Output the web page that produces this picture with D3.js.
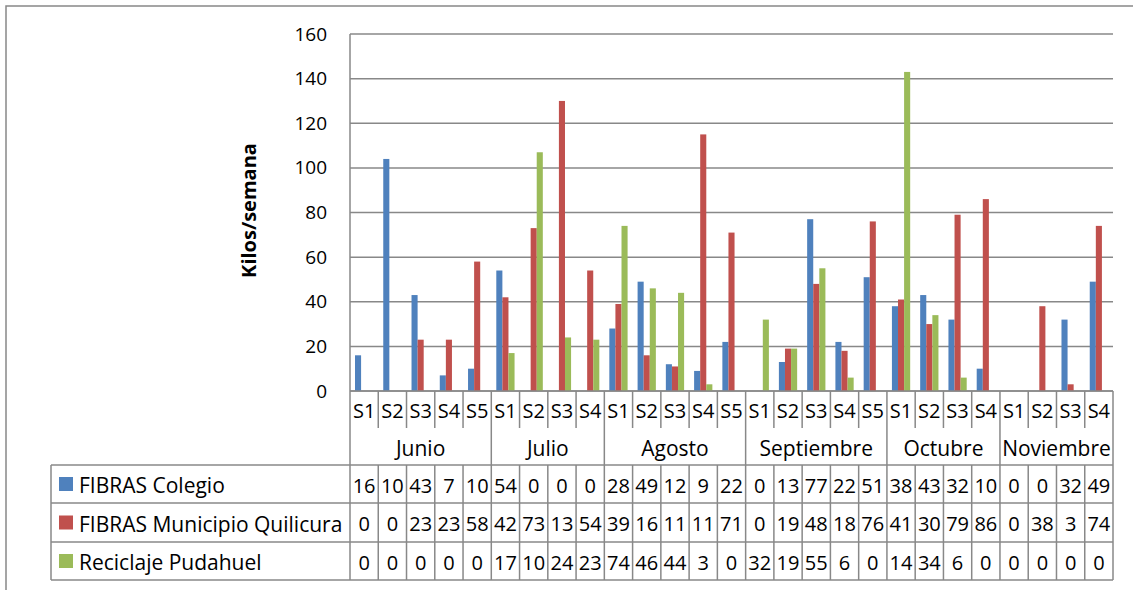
<!DOCTYPE html>
<html>
<head>
<meta charset="utf-8">
<script src="https://cdn.jsdelivr.net/npm/d3@7"></script>
<style>
  body { margin: 0; background: #fff; }
  svg text { font-family: "Open Sans", sans-serif; fill: #000; }
</style>
</head>
<body>
<svg id="chart" width="1133" height="590"></svg>
<script>
// data
const months = ["Junio", "Julio", "Agosto", "Septiembre", "Octubre", "Noviembre"];
const weeksPerMonth = [5, 4, 5, 5, 4, 4];
const seriesNames = ["FIBRAS Colegio", "FIBRAS Municipio Quilicura", "Reciclaje Pudahuel"];
const colegio   = [16, 104, 43, 7, 10, 54, 0, 0, 0, 28, 49, 12, 9, 22, 0, 13, 77, 22, 51, 38, 43, 32, 10, 0, 0, 32, 49];
const municipio = [0, 0, 23, 23, 58, 42, 73, 130, 54, 39, 16, 11, 115, 71, 0, 19, 48, 18, 76, 41, 30, 79, 86, 0, 38, 3, 74];
const reciclaje = [0, 0, 0, 0, 0, 17, 107, 24, 23, 74, 46, 44, 3, 0, 32, 19, 55, 6, 0, 143, 34, 6, 0, 0, 0, 0, 0];
const yTicks = [0, 20, 40, 60, 80, 100, 120, 140, 160];
const yTitle = "Kilos/semana";

const colors = ["#4F81BD", "#C0504D", "#9BBB59"];
const lineCol = "#888888";

// build the categories (month / week)
let cats = [];
months.forEach(function (m, mi) {
    for (let w = 1; w <= weeksPerMonth[mi]; w++) {
        cats.push({ key: m + "-S" + w, month: m, week: "S" + w });
    }
});
const allSeries = [colegio, municipio, reciclaje];

const svg = d3.select("#chart");

// layout
const plotL = 350, plotR = 1113, plotT = 34, plotB = 391;
const rowS = 428, rowM = 465;
const tableRows = [465, 503, 542, 580];
const tableL = 51;
const fsNum = 19;   // digits
const fsTxt = 21;   // words

// outer frame
svg.append("rect")
    .attr("x", 6).attr("y", 6)
    .attr("width", 1140).attr("height", 600)
    .attr("fill", "none")
    .attr("stroke", lineCol)
    .attr("stroke-width", 1.5);

const x = d3.scaleBand()
    .domain(cats.map(d => d.key))
    .range([plotL, plotR])
    .padding(0);

const gap = 10;
const xInner = d3.scaleBand()
    .domain(d3.range(3))
    .range([gap / 2, x.bandwidth() - gap / 2])
    .padding(0);

const y = d3.scaleLinear()
    .domain([0, 160])
    .range([plotB, plotT]);

// gridlines
svg.append("g")
    .selectAll("line")
    .data(yTicks)
    .enter()
    .append("line")
    .attr("x1", plotL).attr("x2", plotR)
    .attr("y1", d => y(d)).attr("y2", d => y(d))
    .attr("stroke", lineCol)
    .attr("stroke-width", 1.5);

// y axis labels
const yAxis = svg.append("g")
    .attr("transform", `translate(${plotL},0)`)
    .call(d3.axisLeft(y).tickValues(yTicks).tickSize(0).tickPadding(23));
yAxis.select(".domain").remove();
yAxis.selectAll("text")
    .style("font-size", fsNum + "px")
    .style("font-family", "'Open Sans', sans-serif");

// y title
svg.append("text")
    .attr("transform", `translate(248,${(plotT + plotB) / 2 - 2}) rotate(-90)`)
    .attr("text-anchor", "middle")
    .attr("dominant-baseline", "central")
    .style("font-size", "20px")
    .style("font-weight", "bold")
    .text(yTitle);

// bars
allSeries.forEach(function (vals, si) {
    svg.append("g")
        .selectAll("rect")
        .data(cats)
        .enter()
        .append("rect")
        .attr("x", d => x(d.key) + xInner(si))
        .attr("width", xInner.bandwidth())
        .attr("y", (d, i) => y(vals[i]))
        .attr("height", (d, i) => plotB - y(vals[i]))
        .attr("fill", colors[si]);
});

// category axis: week row
const lines = svg.append("g").attr("stroke", lineCol).attr("stroke-width", 1.5);
lines.append("line").attr("x1", plotL).attr("x2", plotR).attr("y1", plotB).attr("y2", plotB);
lines.append("line").attr("x1", plotL).attr("x2", plotL).attr("y1", plotT).attr("y2", tableRows[3]);
lines.append("line").attr("x1", plotR).attr("x2", plotR).attr("y1", plotB).attr("y2", tableRows[3]);

let monthStart = [];
let acc = 0;
weeksPerMonth.forEach(function (n) { monthStart.push(acc); acc += n; });

cats.forEach(function (d, i) {
    if (i === 0) return;
    const isMonth = monthStart.includes(i);
    lines.append("line")
        .attr("x1", x(d.key)).attr("x2", x(d.key))
        .attr("y1", plotB).attr("y2", isMonth ? rowM : rowS);
});

svg.append("g")
    .selectAll("text")
    .data(cats)
    .enter()
    .append("text")
    .attr("x", d => x(d.key) + x.bandwidth() / 2)
    .attr("y", (plotB + rowS) / 2 + 1)
    .attr("text-anchor", "middle")
    .attr("dominant-baseline", "central")
    .style("font-size", "20px")
    .text(d => d.week);

// month row
svg.append("g")
    .selectAll("text")
    .data(months)
    .enter()
    .append("text")
    .attr("x", (d, i) => {
        const a = x(cats[monthStart[i]].key);
        const b = x(cats[monthStart[i] + weeksPerMonth[i] - 1].key) + x.bandwidth();
        return (a + b) / 2;
    })
    .attr("y", (rowS + rowM) / 2 + 1)
    .attr("text-anchor", "middle")
    .attr("dominant-baseline", "central")
    .style("font-size", fsTxt + "px")
    .text(d => d);

// data table
tableRows.forEach(function (ty) {
    lines.append("line").attr("x1", tableL).attr("x2", plotR).attr("y1", ty).attr("y2", ty);
});
lines.append("line").attr("x1", tableL).attr("x2", tableL).attr("y1", tableRows[0]).attr("y2", tableRows[3]);
cats.forEach(function (d, i) {
    if (i === 0) return;
    lines.append("line")
        .attr("x1", x(d.key)).attr("x2", x(d.key))
        .attr("y1", tableRows[0]).attr("y2", tableRows[3]);
});

seriesNames.forEach(function (name, si) {
    const cy = (tableRows[si] + tableRows[si + 1]) / 2;
    svg.append("rect")
        .attr("x", 59).attr("y", cy - 7)
        .attr("width", 14).attr("height", 14)
        .attr("fill", colors[si]);
    svg.append("text")
        .attr("x", 79).attr("y", cy + 1)
        .attr("dominant-baseline", "central")
        .style("font-size", fsTxt + "px")
        .text(name);

    // cell values, cut to the width of the cell like the spreadsheet does
    const g = svg.append("g");
    allSeries[si].forEach(function (v, i) {
        const t = g.append("text")
            .attr("x", x(cats[i].key) + x.bandwidth() / 2)
            .attr("y", cy + 1)
            .attr("text-anchor", "middle")
            .attr("dominant-baseline", "central")
            .style("font-size", fsNum + 1 + "px")
            .text(String(v));
        let s = String(v);
        while (s.length > 1 && t.node().getComputedTextLength() > x.bandwidth()) {
            s = s.slice(0, -1);
            t.text(s);
        }
    });
});
</script>
</body>
</html>
